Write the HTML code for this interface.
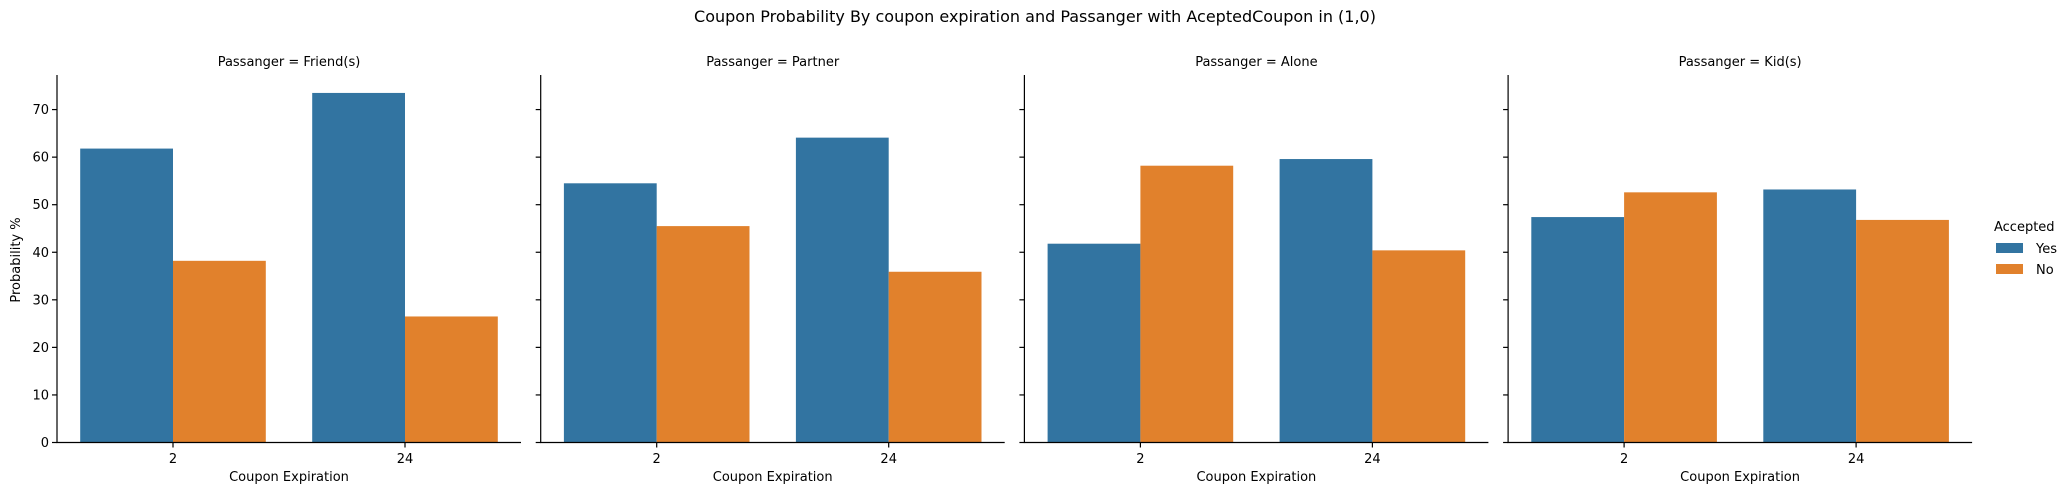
<!DOCTYPE html>
<html><head><meta charset="utf-8"><style>
html,body{margin:0;padding:0;background:#fff;}
svg{display:block;font-family:"DejaVu Sans","Liberation Sans",sans-serif;}
</style></head><body>
<svg id="chart" width="2071" height="495" viewBox="0 0 2071 495"></svg>
<script>
const panels = ["Friend(s)", "Partner", "Alone", "Kid(s)"];
const categories = ["2", "24"];
const yesValues = [[61.8, 73.5], [54.5, 64.1], [41.8, 59.6], [47.4, 53.2]];
const noValues = [[38.2, 26.5], [45.5, 35.9], [58.2, 40.4], [52.6, 46.8]];
const yTicks = [0, 10, 20, 30, 40, 50, 60, 70];
const seriesNames = ["Yes", "No"];

const svg = document.getElementById('chart');
const NS = 'http://www.w3.org/2000/svg';
function mk(tag, attrs, parent) {
  const e = document.createElementNS(NS, tag);
  for (const k in attrs) e.setAttribute(k, attrs[k]);
  (parent || svg).appendChild(e);
  return e;
}
const colors = ["#3274a1", "#e1812c"];
const y0 = 442.5, yTop = 75, pxPer = 4.756;
const panelX0 = 57, panelW = 464, panelStep = 483.7;
function yScale(v) { return y0 - v * pxPer; }
function xScale(p, c) { return panelX0 + p * panelStep + (c + 0.5) * (panelW / 2); }
const catW = panelW / 2, barW = catW * 0.4;

const t = mk('text', {x: 1035, y: 22, 'text-anchor': 'middle', 'font-size': 16, fill: '#000'});
t.textContent = "Coupon Probability By coupon expiration and Passanger with AceptedCoupon in (1,0)";



panels.forEach((pn, p) => {
  const g = mk('g', {});
  
  
  const left = panelX0 + p * panelStep;
  categories.forEach((c, ci) => {
    const cx = xScale(p, ci);
    [yesValues[p][ci], noValues[p][ci]].forEach((v, si) => {
      const r = mk('rect', {x: cx - barW + si * barW, y: yScale(v), width: barW, height: y0 - yScale(v), fill: colors[si]}, g);
      
      
    });
    const tk = mk('line', {x1: cx, x2: cx, y1: y0, y2: y0 + 5, stroke: '#000', 'stroke-width': 1.2}, g);
    
    
    const tl = mk('text', {x: cx, y: 463, 'text-anchor': 'middle', 'font-size': 13, fill: '#000'}, g);
    tl.textContent = c;
    
    
  });
  yTicks.forEach(v => {
    const tk = mk('line', {x1: left - 5, x2: left, y1: yScale(v), y2: yScale(v), stroke: '#000', 'stroke-width': 1.2}, g);
    
    
    if (p === 0) {
      const tl = mk('text', {x: left - 8, y: yScale(v) + 4.5, 'text-anchor': 'end', 'font-size': 13, fill: '#000'}, g);
      tl.textContent = v;
      
      
    }
  });
  const ax = mk('path', {d: `M${left},${yTop} V${y0} H${left + panelW}`, fill: 'none', stroke: '#000', 'stroke-width': 1.2}, g);
  
  
  const pt = mk('text', {x: left + panelW / 2, y: 66, 'text-anchor': 'middle', 'font-size': 13, fill: '#000'}, g);
  pt.textContent = "Passanger = " + pn;
  
  
  const xl = mk('text', {x: left + panelW / 2, y: 481, 'text-anchor': 'middle', 'font-size': 13, fill: '#000'}, g);
  xl.textContent = "Coupon Expiration";
  
  
});

const yl = mk('text', {x: 0, y: 0, transform: 'translate(20,260) rotate(-90)', 'text-anchor': 'middle', 'font-size': 13, fill: '#000'});
yl.textContent = "Probability %";



const lg = mk('g', {});


const lt = mk('text', {x: 1994, y: 231, 'font-size': 13, fill: '#000'}, lg);
lt.textContent = "Accepted";


seriesNames.forEach((s, i) => {
  const e = mk('g', {}, lg);
  
  
  mk('rect', {x: 1996, y: 243 + i * 21, width: 27, height: 10, fill: colors[i]}, e);
  const tx = mk('text', {x: 2036, y: 253 + i * 21, 'font-size': 13, fill: '#000'}, e);
  tx.textContent = s;
});
</script>
</body></html>
